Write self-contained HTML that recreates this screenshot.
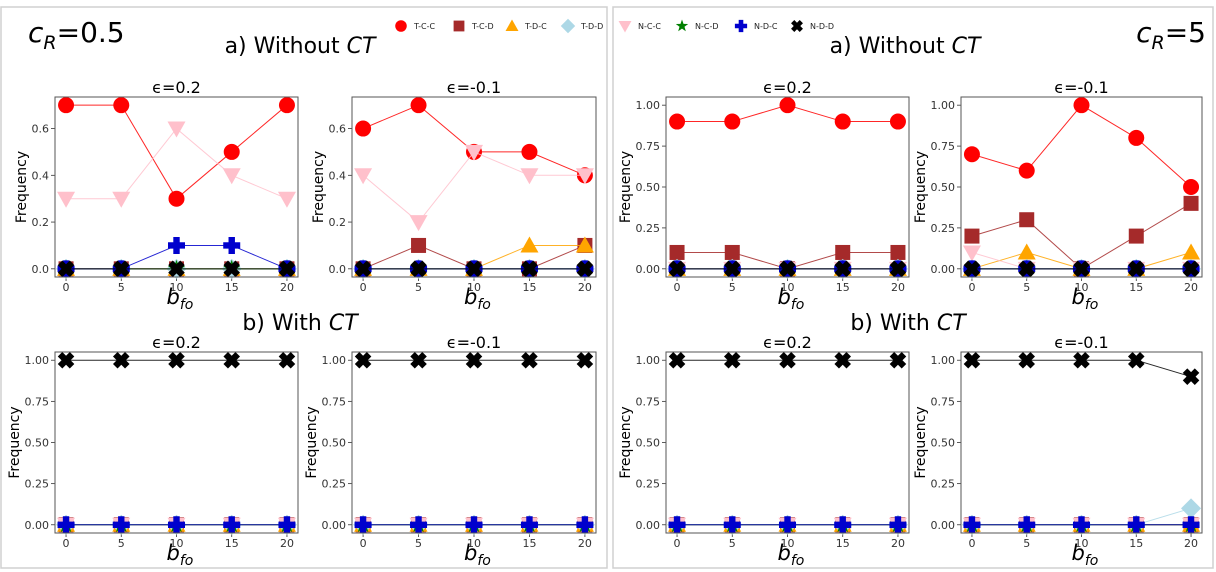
<!DOCTYPE html>
<html><head><meta charset="utf-8">
<style>
html,body{margin:0;padding:0;background:#fff;}
svg{display:block;font-family:"DejaVu Sans","Liberation Sans",sans-serif;}
</style></head>
<body>
<svg id="fig" width="1216" height="572" viewBox="0 0 1216 572" xmlns="http://www.w3.org/2000/svg">
<rect x="1" y="7" width="606" height="561" fill="none" stroke="#d0d0d0" stroke-width="1.5"/>
<rect x="613" y="7" width="600" height="561" fill="none" stroke="#d0d0d0" stroke-width="1.5"/>
<text x="28" y="42" font-size="28"><tspan font-style="italic">c</tspan><tspan font-style="italic" font-size="19" dy="7">R</tspan><tspan dy="-7">=0.5</tspan></text>
<text x="1206" y="42" font-size="28" text-anchor="end"><tspan font-style="italic">c</tspan><tspan font-style="italic" font-size="19" dy="7">R</tspan><tspan dy="-7">=5</tspan></text>
<text x="300" y="53" font-size="22" text-anchor="middle">a) Without <tspan font-style="italic">CT</tspan></text>
<text x="905" y="53" font-size="22" text-anchor="middle">a) Without <tspan font-style="italic">CT</tspan></text>
<text x="300" y="330" font-size="22" text-anchor="middle">b) With <tspan font-style="italic">CT</tspan></text>
<text x="908" y="330" font-size="22" text-anchor="middle">b) With <tspan font-style="italic">CT</tspan></text>
<g id="legend"></g>
<g id="panels"></g>
</svg>
<script>
const xCats = [0,5,10,15,20];
const seriesNames = ["T-C-C","T-C-D","T-D-C","T-D-D","N-C-C","N-C-D","N-D-C","N-D-D"];
const seriesColors = ["#ff0000","#a52a2a","#ffa500","#add8e6","#ffc0cb","#008000","#0000cd","#000000"];
const seriesMarkers = ["circle","square","triUp","diamond","triDown","star","plus","cross"];
const Z = [0,0,0,0,0];
const O = [1,1,1,1,1];
// panel A1: cR=0.5, eps=0.2, without CT
const a1TCC=[0.7,0.7,0.3,0.5,0.7], a1NCC=[0.3,0.3,0.6,0.4,0.3], a1NDC=[0,0,0.1,0.1,0];
// panel A2: cR=0.5, eps=-0.1, without CT
const a2TCC=[0.6,0.7,0.5,0.5,0.4], a2TCD=[0,0.1,0,0,0.1], a2TDC=[0,0,0,0.1,0.1], a2NCC=[0.4,0.2,0.5,0.4,0.4];
// panel A3: cR=5, eps=0.2, without CT
const a3TCC=[0.9,0.9,1.0,0.9,0.9], a3TCD=[0.1,0.1,0,0.1,0.1];
// panel A4: cR=5, eps=-0.1, without CT
const a4TCC=[0.7,0.6,1.0,0.8,0.5], a4TCD=[0.2,0.3,0,0.2,0.4], a4TDC=[0,0.1,0,0,0.1], a4NCC=[0.1,0,0,0,0];
// panel B4: cR=5, eps=-0.1, with CT
const b4TDD=[0,0,0,0,0.1], b4NDD=[1,1,1,1,0.9];
const ticks07 = ["0.0","0.2","0.4","0.6"];
const ticks07v = [0,0.2,0.4,0.6];
const ticks10 = ["0.00","0.25","0.50","0.75","1.00"];
const ticks10v = [0,0.25,0.5,0.75,1.0];

const panels = [
 {name:"a-left-eps02", x0:55,x1:298,y0:97,y1:277,ymax:0.7,title:"ϵ=0.2",data:[a1TCC,Z,Z,Z,a1NCC,Z,a1NDC,Z]},
 {name:"a-left-eps-01", x0:352,x1:596,y0:97,y1:277,ymax:0.7,title:"ϵ=-0.1",data:[a2TCC,a2TCD,a2TDC,Z,a2NCC,Z,Z,Z]},
 {name:"a-right-eps02", x0:666,x1:909,y0:97,y1:277,ymax:1.0,title:"ϵ=0.2",data:[a3TCC,a3TCD,Z,Z,Z,Z,Z,Z]},
 {name:"a-right-eps-01", x0:961,x1:1202,y0:97,y1:277,ymax:1.0,title:"ϵ=-0.1",data:[a4TCC,a4TCD,a4TDC,Z,a4NCC,Z,Z,Z]},
 {name:"b-left-eps02", x0:55,x1:298,y0:352,y1:533,ymax:1.0,title:"ϵ=0.2",data:[Z,Z,Z,Z,Z,Z,Z,O]},
 {name:"b-left-eps-01", x0:352,x1:596,y0:352,y1:533,ymax:1.0,title:"ϵ=-0.1",data:[Z,Z,Z,Z,Z,Z,Z,O]},
 {name:"b-right-eps02", x0:666,x1:909,y0:352,y1:533,ymax:1.0,title:"ϵ=0.2",data:[Z,Z,Z,Z,Z,Z,Z,O]},
 {name:"b-right-eps-01", x0:961,x1:1202,y0:352,y1:533,ymax:1.0,title:"ϵ=-0.1",data:[Z,Z,Z,b4TDD,Z,Z,Z,b4NDD]}
];
const NS="http://www.w3.org/2000/svg";
function mk(tag, attrs, parent){const e=document.createElementNS(NS,tag);for(const k in attrs)e.setAttribute(k,attrs[k]);parent.appendChild(e);return e;}
function marker(type, cx, cy, color, s, parent){
  let e;
  if(type==="circle") e=mk("circle",{cx:cx,cy:cy,r:8*s,fill:color},parent);
  else if(type==="square") e=mk("rect",{x:cx-7.5*s,y:cy-7.5*s,width:15*s,height:15*s,fill:color},parent);
  else if(type==="triUp") e=mk("polygon",{points:`${cx},${cy-9*s} ${cx+9*s},${cy+7*s} ${cx-9*s},${cy+7*s}`,fill:color},parent);
  else if(type==="triDown") e=mk("polygon",{points:`${cx},${cy+9*s} ${cx+9*s},${cy-7*s} ${cx-9*s},${cy-7*s}`,fill:color},parent);
  else if(type==="diamond") e=mk("polygon",{points:`${cx},${cy-10*s} ${cx+10*s},${cy} ${cx},${cy+10*s} ${cx-10*s},${cy}`,fill:color},parent);
  else if(type==="star"){let p=[];for(let i=0;i<10;i++){const r=(i%2?3.6:9)*s,a=-Math.PI/2+i*Math.PI/5;p.push((cx+r*Math.cos(a)).toFixed(1)+","+(cy+r*Math.sin(a)).toFixed(1));}e=mk("polygon",{points:p.join(" "),fill:color},parent);}
  else if(type==="plus"){const a=8.5*s,b=3.2*s;e=mk("path",{d:`M${cx-b},${cy-a}h${2*b}v${a-b}h${a-b}v${2*b}h${-(a-b)}v${a-b}h${-2*b}v${-(a-b)}h${-(a-b)}v${-2*b}h${a-b}z`,fill:color},parent);}
  else {const a=8.5*s,b=3.2*s;e=mk("path",{d:`M${cx-b},${cy-a}h${2*b}v${a-b}h${a-b}v${2*b}h${-(a-b)}v${a-b}h${-2*b}v${-(a-b)}h${-(a-b)}v${-2*b}h${a-b}z`,fill:color,transform:`rotate(45 ${cx} ${cy})`},parent);}
  return e;
}
// legend
const lg=document.getElementById("legend");
const legX=[401,459,512,568,625,682,741,797];
seriesNames.forEach((n,i)=>{
  const g=mk("g",{},lg);
  
  
  marker(seriesMarkers[i],legX[i],26,seriesColors[i],0.72,g);
  const t=mk("text",{x:legX[i]+13,y:29,"font-size":8,fill:"#222"},g);t.textContent=n;
});
const root=document.getElementById("panels");
panels.forEach(p=>{
  const g=mk("g",{},root);
  
  
  const ylo=-0.05*p.ymax, yhi=1.05*p.ymax;
  const sx=v=>p.x0+(v-(-1))/(22)*(p.x1-p.x0);
  const sy=v=>p.y1-(v-ylo)/(yhi-ylo)*(p.y1-p.y0);
  const tv=p.ymax<1?ticks07v:ticks10v, tl=p.ymax<1?ticks07:ticks10;
  tv.forEach((v,i)=>{
    mk("line",{x1:p.x0-4,x2:p.x0,y1:sy(v),y2:sy(v),stroke:"#333","stroke-width":0.8},g);
    const t=mk("text",{x:p.x0-6,y:sy(v)+4,"font-size":11,"text-anchor":"end",fill:"#333"},g);
    
    
    t.textContent=tl[i];
  });
  xCats.forEach(v=>{
    mk("line",{x1:sx(v),x2:sx(v),y1:p.y1,y2:p.y1+4,stroke:"#333","stroke-width":0.8},g);
    const t=mk("text",{x:sx(v),y:p.y1+14,"font-size":11,"text-anchor":"middle",fill:"#333"},g);
    
    
    t.textContent=v;
  });
  const yl=mk("text",{x:0,y:0,"font-size":14,"text-anchor":"middle",transform:`translate(${p.x0-(p.ymax<1?29:36)},${(p.y0+p.y1)/2}) rotate(-90)`},g);
  
  
  yl.textContent="Frequency";
  const xl=mk("text",{x:(p.x0+p.x1)/2-10,y:p.y1+27,"font-size":21,"font-style":"italic"},g);
  
  
  xl.innerHTML='b<tspan font-size="14" dy="5">fo</tspan>';
  const tt=mk("text",{x:(p.x0+p.x1)/2,y:p.y0-4,"font-size":16,"text-anchor":"middle"},g);
  
  
  tt.textContent=p.title;
  const plot=mk("g",{},g);
  p.data.forEach((arr,si)=>{
    const s=mk("g",{},plot);
    
    
    mk("polyline",{points:arr.map((v,i)=>sx(xCats[i])+","+sy(v)).join(" "),fill:"none",stroke:seriesColors[si],"stroke-width":1,opacity:0.85},s);
    arr.forEach((v,i)=>{
      const m=marker(seriesMarkers[si],sx(xCats[i]),sy(v),seriesColors[si],1,s);
      
      
    });
  });
  mk("rect",{x:p.x0,y:p.y0,width:p.x1-p.x0,height:p.y1-p.y0,fill:"none",stroke:"#555","stroke-width":1},g);
});
</script>
</body></html>
